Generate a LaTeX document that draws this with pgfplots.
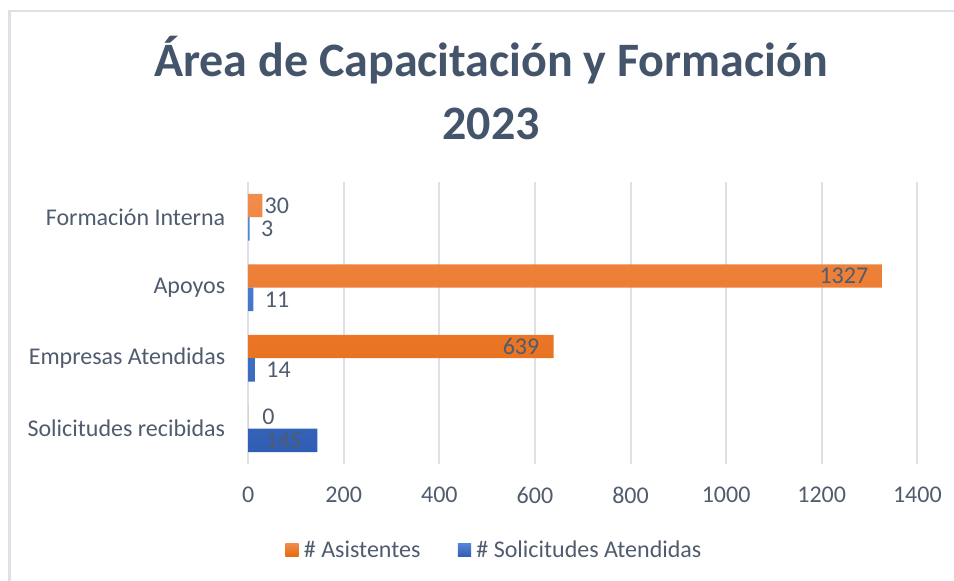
\documentclass[border=0pt]{standalone}
\usepackage{pgfplots}
\pgfplotsset{compat=1.18}
\usepackage{fontspec}
\setmainfont{Carlito}
\definecolor{orL}{HTML}{F28C4C}
\definecolor{orD}{HTML}{E4680E}
\definecolor{blL}{HTML}{5585D6}
\definecolor{blD}{HTML}{2F5EB4}
\definecolor{txt}{HTML}{505C6E}
\definecolor{ttl}{HTML}{44546A}
\definecolor{gridc}{HTML}{DCE1E8}
\begin{document}
\begin{tikzpicture}[x=0.75pt,y=0.75pt]
\path[use as bounding box] (0,0) rectangle (954,581);
\draw[gridc, line width=1.6pt] (9.5,-2) -- (9.5,570) -- (956,570);
\node[anchor=base, font=\fontsize{36}{40}\selectfont\bfseries, text=ttl, inner sep=0pt] at (491,504.3) {Área de Capacitación y Formación};
\node[anchor=base, font=\fontsize{36}{40}\selectfont\bfseries, text=ttl, inner sep=0pt] at (491,441) {2023};
\begin{axis}[
  at={(186.1pt,87.75pt)}, anchor=south west,
  scale only axis, width=501.9pt, height=211.5pt,
  xbar, xmin=0, xmax=1400, ymin=-0.5, ymax=3.5,
  bar width=0.33,
  xtick={0,200,...,1400},
  ytick={0,1,2,3},
  yticklabels={Solicitudes recibidas, Empresas Atendidas, Apoyos, Formación Interna},
  axis line style={draw=none},
  major tick length=0pt,
  xmajorgrids, ymajorgrids=false,
  grid style={draw=gridc, line width=1.5pt},
  /pgf/number format/assume math mode=true,
  /pgf/number format/1000 sep={},
  tick label style={font=\fontsize{18}{20}\selectfont, text=txt},
  xticklabel style={inner sep=0pt, yshift=-17pt},
  yticklabel style={inner sep=0pt, xshift=-17pt},
  point meta=x,
  nodes near coords={\pgfmathprintnumber[assume math mode=true,1000 sep={}]{\pgfplotspointmeta}},
  every node near coord/.append style={font=\fontsize{18}{20}\selectfont, text=txt, inner sep=0pt},
  legend style={at={(0.3704,-0.305)}, anchor=center, draw=none, fill=none,
    legend columns=2, font=\fontsize{18}{20}\selectfont, text=txt,
    /tikz/every even column/.append style={column sep=24pt},
    legend cell align=left, inner sep=0pt,
    nodes={inner xsep=4pt}},
  legend image code/.code={\path[#1,draw=none] (0pt,-5pt) rectangle (10pt,5pt);},
]
% bars (no labels)
\addplot[xbar, bar shift=0.165, top color=orL, bottom color=orD, draw=none, nodes near coords=\relax]
  coordinates {(0,0) (639,1) (1327,2) (30,3)};
\addlegendentry{\# Asistentes}
\addplot[xbar, bar shift=-0.165, top color=blL, bottom color=blD, draw=none, nodes near coords=\relax]
  coordinates {(145,0) (14,1) (11,2) (3,3)};
\addlegendentry{\# Solicitudes Atendidas}
% labels inside end
\addplot[xbar, bar shift=0.165, draw=none, fill=none, forget plot,
  every node near coord/.append style={anchor=east, xshift=-10.5pt}]
  coordinates {(639,1) (1327,2)};
\addplot[xbar, bar shift=-0.165, draw=none, fill=none, forget plot,
  every node near coord/.append style={anchor=east, xshift=-11.5pt}]
  coordinates {(145,0)};
% labels outside end
\addplot[xbar, bar shift=0.165, draw=none, fill=none, forget plot,
  every node near coord/.append style={anchor=west, xshift=1.5pt}]
  coordinates {(30,3)};
\addplot[xbar, bar shift=0.165, draw=none, fill=none, forget plot,
  every node near coord/.append style={anchor=west, xshift=10.5pt}]
  coordinates {(0,0)};
\addplot[xbar, bar shift=-0.165, draw=none, fill=none, forget plot,
  every node near coord/.append style={anchor=west, xshift=8.5pt}]
  coordinates {(14,1) (11,2) (3,3)};
\end{axis}
\end{tikzpicture}
\end{document}
